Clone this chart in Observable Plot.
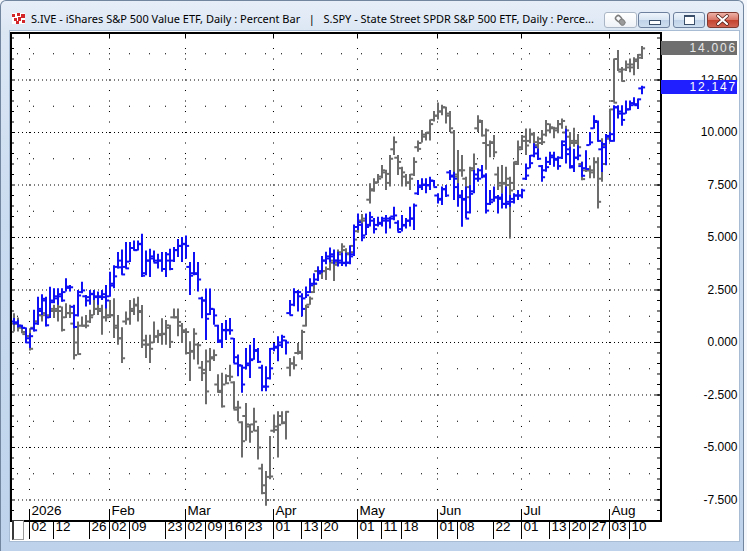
<!DOCTYPE html>
<html>
<head>
<meta charset="utf-8">
<script src="https://cdn.jsdelivr.net/npm/d3@7"></script>
<script src="https://cdn.jsdelivr.net/npm/@observablehq/plot@0.6"></script>
<style>
html,body{margin:0;padding:0;width:747px;height:551px;overflow:hidden;background:#f3f6fa;}
#win{position:absolute;left:0;top:0;width:744px;height:551px;box-sizing:border-box;
  background:linear-gradient(to bottom,#e7eef8 0px,#dce7f4 30px,#cadcf0 220px,#bed3eb 551px);
  border:1px solid #72869f;border-bottom:none;border-radius:6px 6px 0 0;}
#client{position:absolute;left:9px;top:30px;width:729px;height:510px;background:#fff;box-shadow:0 0 0 1px #a8bcd3;}
#icon{position:absolute;left:11px;top:12px;}
#title{position:absolute;left:30px;top:10px;font-family:"Noto Sans","Open Sans",sans-serif;font-size:11px;color:#000;white-space:nowrap;line-height:16px;}
.btn{position:absolute;top:11px;height:16px;box-sizing:border-box;border:1px solid #6d819e;border-radius:3px;}
#b0{left:603px;width:33px;background:linear-gradient(#ffffff,#eef2f7);border-color:#aab6c6;}
#b1{left:637px;width:32px;background:linear-gradient(#eef4fb 0%,#d8e5f3 48%,#bfd2e8 52%,#cfdff0 100%);}
#b2{left:672px;width:32px;background:linear-gradient(#eef4fb 0%,#d8e5f3 48%,#bfd2e8 52%,#cfdff0 100%);}
#b3{left:706px;width:32px;background:linear-gradient(#eeb1a6 0%,#d9786a 48%,#c4432f 52%,#d06452 100%);border-color:#80392f;}
#chart{position:absolute;left:0;top:0;}
#scroll{position:absolute;left:12px;top:520px;width:12px;height:20px;box-sizing:border-box;background:#fff;
  border:1px solid #9a9a9a;border-left:2px solid #3a3a3a;border-top:1px solid #3a3a3a;}
.lastbox{position:absolute;left:661px;width:76px;height:14px;box-sizing:border-box;padding-right:0px;
  font-family:"Liberation Sans",Arial,sans-serif;font-size:12px;line-height:14px;letter-spacing:1.8px;text-align:right;}
</style>
</head>
<body>
<div id="win">
  <svg id="icon" width="13" height="11" viewBox="0 0 13 11">
    <rect x="0" y="0" width="13" height="11" fill="#fff"/>
    <rect x="0" y="1" width="3" height="3" fill="#d3262a"/><rect x="5" y="0" width="3" height="3" fill="#d3262a"/>
    <rect x="9" y="1" width="4" height="4" fill="#d3262a"/><rect x="2" y="5" width="3" height="3" fill="#d3262a"/>
    <rect x="6" y="4" width="3" height="4" fill="#d3262a"/><rect x="10" y="7" width="3" height="3" fill="#d3262a"/>
    <rect x="4" y="8" width="3" height="3" fill="#d3262a"/>
  </svg>
  <div id="title">S.IVE - iShares S&amp;P 500 Value ETF, Daily : Percent Bar&nbsp;&nbsp;&nbsp;|&nbsp;&nbsp;&nbsp;S.SPY - State Street SPDR S&amp;P 500 ETF, Daily : Perce...</div>
  <div class="btn" id="b0"><svg width="31" height="14" style="position:absolute;left:0;top:0"><g transform="translate(15,7) rotate(45)"><rect x="-5" y="-2.5" width="6" height="5" rx="2" fill="none" stroke="#7d7d7d" stroke-width="1.5"/><rect x="0" y="-2.5" width="6" height="5" rx="2" fill="#9a9a9a" stroke="#7d7d7d" stroke-width="1"/></g></svg></div>
  <div class="btn" id="b1"><div style="position:absolute;left:10px;top:7px;width:10px;height:3px;background:#fff;border:1px solid #3c4f6a;"></div></div>
  <div class="btn" id="b2"><div style="position:absolute;left:10px;top:2px;width:9px;height:7px;background:#fff;border:1px solid #3c4f6a;border-top-width:2px;"></div></div>
  <div class="btn" id="b3"><svg width="30" height="14" style="position:absolute;left:0;top:0"><path d="M10,3 L19,11 M19,3 L10,11" stroke="#4a1a14" stroke-width="3.6" stroke-linecap="round"/><path d="M10,3 L19,11 M19,3 L10,11" stroke="#fff" stroke-width="2.2" stroke-linecap="round"/></svg></div>
  <div id="client"></div>
</div>
<div id="chart"></div>
<div id="scroll"></div>
<script>
// ---- S.IVE (blue) percent bars: open, high, low, close ----
const iveOpen = [1.00,0.95,0.80,0.69,0.20,0.66,0.90,1.60,2.00,1.20,
2.00,2.10,2.30,2.40,2.60,1.70,1.30,2.40,2.20,2.00,
2.30,2.20,2.20,2.30,2.20,2.80,3.60,3.90,3.60,3.85,
4.50,4.40,4.70,3.30,3.90,4.10,3.90,3.90,3.50,4.20,
3.90,4.40,4.60,4.70,3.60,3.30,3.30,2.10,2.00,1.35,
1.60,0.80,0.10,0.60,0.60,0.19,-0.70,-1.10,-1.20,-1.00,
-0.80,-0.40,-1.20,-2.10,-1.70,-0.30,-0.20,0.00,0.10,1.40,
1.80,2.40,2.20,2.10,2.40,2.80,3.00,3.40,3.90,4.00,
4.10,3.90,3.90,3.80,3.80,4.20,5.50,5.60,5.10,5.60,
5.80,5.60,5.70,5.80,5.80,6.00,5.70,5.40,5.60,5.80,
5.90,7.10,7.40,7.50,7.50,7.70,7.00,6.80,7.30,8.10,
7.90,7.40,7.00,6.80,6.20,7.20,8.00,8.20,7.90,6.60,
6.80,6.90,6.90,6.60,6.70,6.70,7.00,7.00,7.80,8.30,
8.90,9.00,8.40,8.20,8.60,8.90,8.70,8.80,9.40,9.20,
8.40,8.80,8.40,8.30,9.40,10.20,10.50,9.20,9.30,9.80,
9.60,11.20,10.90,10.90,11.10,11.30,11.30,12.10];
const iveHigh = [1.14,1.06,0.82,0.69,0.42,1.53,2.16,2.27,2.16,2.63,
2.56,2.56,2.56,3.03,2.71,1.77,2.48,2.87,2.24,2.48,
2.48,2.40,2.48,2.71,3.34,3.66,4.29,4.40,4.76,4.76,
4.83,4.83,5.15,4.36,4.44,4.36,4.20,4.28,4.28,4.44,
4.52,4.90,5.00,5.07,3.81,4.28,3.81,2.16,2.55,2.55,
1.60,0.82,0.90,1.05,1.14,0.19,-0.60,-1.08,-0.28,-0.13,
0.19,-0.28,-1.08,-1.16,-0.28,-0.05,0.27,0.35,0.11,2.00,
2.56,2.48,2.32,2.64,3.04,3.27,3.60,4.10,4.30,4.50,
4.40,4.30,4.25,4.25,4.60,5.60,6.12,5.65,6.12,6.20,
5.90,5.97,5.97,6.05,5.97,6.44,5.80,6.05,5.90,6.44,
6.60,7.71,7.80,7.80,7.87,7.71,7.08,7.40,7.48,8.19,
8.11,7.56,7.24,7.40,7.48,8.19,8.27,8.43,8.03,7.24,
7.40,7.00,7.08,7.40,7.00,7.08,7.24,7.30,8.50,8.90,
9.46,9.22,8.43,8.82,9.06,9.06,8.85,9.60,10.16,9.30,
9.20,9.37,8.58,9.13,10.00,10.80,10.55,9.53,9.90,10.00,
11.27,11.27,11.27,11.50,11.50,11.66,11.58,12.20];
const iveLow = [0.82,0.69,0.66,-0.05,-0.28,0.50,0.82,1.29,0.74,1.14,
1.85,1.77,1.92,2.40,2.40,0.66,1.21,2.32,1.69,1.77,
2.00,1.77,2.00,1.60,2.16,2.56,3.50,3.20,3.50,3.81,
4.36,4.36,3.10,3.18,3.10,3.80,3.50,3.34,3.10,3.42,
3.81,4.05,3.81,3.97,2.24,3.18,2.40,1.13,0.10,1.29,
0.82,-0.05,-0.28,0.10,0.35,-1.00,-1.63,-2.42,-1.31,-1.71,
-0.84,-1.00,-2.34,-2.34,-1.79,-0.44,-0.92,-0.28,-0.60,1.30,
1.70,1.45,1.22,2.09,2.33,2.72,2.90,3.30,3.70,3.80,
3.70,3.60,3.62,3.60,3.70,4.10,5.33,4.80,5.10,5.50,
5.17,5.50,5.50,5.17,5.40,5.80,5.26,5.26,5.40,5.50,
5.33,7.00,7.24,7.08,7.24,7.40,6.60,6.52,6.90,7.71,
6.76,6.44,5.49,5.90,6.12,7.08,7.63,7.80,6.12,6.52,
6.68,6.12,6.36,6.36,6.44,6.60,6.76,6.84,7.71,8.27,
8.80,8.67,7.63,8.11,8.43,8.35,8.20,8.72,8.50,8.26,
8.10,8.66,7.87,8.26,9.37,10.16,9.53,8.10,8.42,9.53,
9.53,10.64,10.30,10.87,11.03,11.27,11.10,11.80];
const iveClose = [0.95,0.80,0.70,0.00,0.30,0.58,1.50,2.08,0.82,1.92,
2.20,2.20,2.00,2.66,2.63,0.74,2.24,2.48,2.16,2.32,
2.16,2.16,2.16,2.00,2.71,3.15,3.58,3.24,3.53,4.50,
4.40,4.68,3.18,3.90,4.00,3.80,3.90,3.50,3.90,3.50,
4.40,4.60,4.68,4.60,3.18,3.26,3.00,2.00,1.13,1.60,
1.29,0.03,0.58,0.58,0.58,-1.00,-1.08,-2.00,-1.08,-0.84,
-0.36,-0.92,-2.10,-2.10,-1.23,-0.25,-0.13,0.27,0.00,1.30,
2.40,2.40,1.60,2.25,2.72,2.80,3.30,3.90,4.10,4.20,
3.90,3.80,3.78,3.80,4.10,5.50,5.73,5.00,5.50,5.97,
5.40,5.65,5.90,5.90,5.90,6.05,5.26,5.57,5.80,5.90,
6.52,7.48,7.52,7.48,7.71,7.40,6.84,7.30,7.00,7.95,
7.80,6.92,6.84,5.90,7.08,7.80,7.80,7.95,6.28,6.68,
6.92,6.84,6.60,6.60,6.84,7.00,7.00,7.24,7.95,8.54,
9.30,8.75,7.87,8.35,8.82,8.75,8.40,9.57,8.97,8.34,
8.80,8.90,7.94,8.26,9.53,10.55,9.60,9.45,9.84,9.92,
11.20,11.00,10.60,11.10,11.40,11.35,11.58,12.147];

// ---- S.SPY (gray) percent bars ----
const spyOpen = [0.90,0.90,0.70,0.40,0.30,0.70,1.00,1.30,1.40,1.30,
1.60,1.50,1.50,1.20,1.40,0.90,0.00,0.80,0.80,1.00,
1.30,1.60,1.50,1.20,1.30,1.30,0.70,0.20,1.00,1.10,
1.60,1.80,1.50,0.10,-0.10,0.00,0.30,0.40,0.40,0.70,
1.20,1.20,0.80,0.50,-0.50,-0.40,-0.10,-1.20,-1.30,-0.90,
-0.70,-2.00,-2.30,-2.00,-1.60,-1.90,-3.10,-3.80,-3.50,-4.00,
-3.90,-4.20,-6.00,-6.80,-6.40,-4.20,-4.00,-3.50,-3.80,-1.20,
-1.00,-0.50,-0.50,0.80,1.80,2.40,3.40,3.30,3.40,3.50,
3.80,3.80,4.30,4.40,4.20,4.60,5.30,5.80,5.80,6.80,
7.30,7.60,7.90,8.10,7.60,9.20,8.80,8.30,7.90,7.60,
8.00,9.30,9.50,9.80,10.00,10.60,10.80,11.00,11.20,10.80,
10.00,8.00,8.20,7.80,7.40,8.30,10.20,10.50,9.50,9.40,
9.50,8.00,7.60,7.60,7.50,7.60,8.60,9.20,9.80,9.60,
9.90,9.40,9.50,9.90,10.10,10.20,10.20,10.40,10.00,9.80,
9.50,9.60,8.50,8.20,8.20,8.20,8.60,7.80,9.40,9.80,
11.50,13.50,12.90,13.00,13.10,13.10,13.40,13.70];
const spyHigh = [1.37,1.17,0.74,0.60,0.66,1.37,1.37,1.61,1.77,2.16,
1.77,2.00,1.69,1.85,1.77,1.29,0.98,1.21,1.29,1.53,
2.00,2.00,1.77,2.08,2.00,2.08,1.29,0.70,1.45,2.00,
2.08,2.16,1.76,0.35,0.35,0.98,0.58,1.13,1.05,0.82,
1.60,1.60,0.90,0.66,0.03,0.66,-0.05,-0.91,-0.36,-0.28,
-0.36,-1.54,-1.46,-1.54,-1.08,-1.87,-2.80,-3.77,-2.90,-3.90,
-3.13,-4.00,-5.80,-6.14,-4.48,-3.45,-3.30,-3.30,-3.30,-0.76,
-0.68,-0.05,0.58,1.77,2.17,3.04,3.60,3.70,3.60,4.10,
4.00,4.40,4.70,4.46,4.60,5.00,6.00,6.10,6.00,7.56,
7.80,8.00,8.43,8.20,8.90,9.78,8.90,8.35,8.00,8.00,
8.80,9.60,10.10,10.00,10.60,11.00,11.40,11.30,11.20,11.00,
10.10,9.14,8.90,7.87,8.35,8.98,10.80,10.57,10.17,9.60,
9.86,8.35,8.43,8.35,7.87,8.59,9.60,9.86,10.17,10.17,
10.00,9.78,10.10,10.57,10.40,10.25,10.57,10.64,10.30,10.00,
10.20,9.90,8.58,8.34,8.40,8.80,8.80,9.70,9.84,11.10,
13.50,13.90,13.10,13.40,13.50,13.56,13.72,14.10];
const spyLow = [0.50,0.50,0.42,0.10,-0.41,0.66,0.82,0.98,0.82,1.14,
1.14,0.98,0.50,1.14,1.14,-0.83,-0.60,0.74,0.66,0.90,
1.29,1.29,0.35,0.98,1.14,0.19,-0.13,-1.00,0.82,0.82,
1.29,0.98,-0.28,-0.76,-1.00,-0.05,-0.05,-0.13,-0.13,-0.28,
1.13,0.27,-0.05,-0.60,-1.86,-0.83,-1.07,-1.86,-2.96,-1.38,
-0.91,-2.40,-3.12,-2.00,-1.87,-3.20,-3.77,-5.50,-4.70,-4.80,
-4.25,-5.60,-7.25,-7.80,-6.53,-4.32,-5.50,-3.92,-4.64,-1.63,
-1.31,-0.60,-0.84,0.74,1.77,2.33,3.10,3.00,2.95,3.40,
2.90,3.70,3.90,3.78,3.80,4.40,5.20,5.50,5.30,6.60,
7.16,7.56,7.80,7.24,7.40,8.90,7.95,7.40,7.40,7.24,
7.90,9.06,9.50,9.60,9.60,10.50,10.60,10.80,10.40,10.00,
7.50,7.24,7.87,6.76,7.08,7.95,10.00,9.78,8.20,8.80,
8.80,7.24,7.08,7.24,4.93,7.24,8.43,9.14,8.90,9.46,
9.38,9.06,9.38,9.78,9.94,9.70,9.94,10.16,9.30,9.00,
9.30,9.00,7.70,8.10,7.80,7.80,6.36,7.63,9.37,9.70,
11.42,12.90,12.40,12.90,12.85,12.70,13.00,13.48];
const spyClose = [0.90,0.80,0.50,0.30,-0.30,1.00,1.30,1.30,1.20,1.50,
1.60,1.70,0.60,1.40,1.40,-0.60,-0.55,0.80,0.80,1.20,
1.60,1.60,1.20,1.20,1.30,0.80,0.20,-0.75,1.13,1.50,
1.76,1.45,-0.10,-0.10,-0.30,0.27,0.35,0.42,0.82,0.03,
1.20,0.98,0.58,0.50,-0.44,0.42,-0.13,-1.46,-2.33,-0.76,
-0.60,-2.36,-3.04,-1.94,-1.63,-3.20,-3.10,-4.70,-3.90,-4.25,
-3.77,-5.00,-7.17,-7.50,-6.38,-4.16,-3.92,-3.84,-3.30,-1.00,
-1.08,-0.44,0.50,1.69,2.09,2.80,3.30,3.40,3.50,3.90,
3.70,4.20,4.57,4.25,4.30,4.90,5.80,5.90,5.60,7.24,
7.63,7.80,8.20,8.03,8.75,9.54,8.60,8.10,7.63,7.80,
8.60,9.22,9.90,9.97,10.40,10.80,11.00,11.20,10.90,10.20,
7.90,8.20,8.20,6.92,8.20,8.50,10.57,9.86,10.10,9.54,
9.06,7.48,7.56,7.80,7.24,8.50,9.30,9.60,9.38,9.94,
9.54,9.70,9.54,10.40,10.25,10.10,10.40,10.55,10.10,9.60,
9.50,9.30,7.78,8.20,8.10,8.58,6.70,8.50,9.70,11.10,
11.42,13.00,12.45,13.24,13.24,13.48,13.56,14.006];

// ---- time axis (trading-day index; first bar = 26 Dec 2025) ----
const monthIdx = [4,24,43,65,86,106,127,149];
const monthLab = ["2026","Feb","Mar","Apr","May","Jun","Jul","Aug"];
const dayIdx = [4,10,19,24,29,38,43,48,53,58,65,72,77,86,92,97,106,111,120,127,134,139,144,149,154];
const dayLab = ["02","12","26","02","09","23","02","09","16","23","01","13","20","01","11","18","01","08","22","01","13","20","27","03","10"];
const weekIdx = [1,5,10,15,19,24,29,34,38,43,48,53,58,63,67,72,77,82,87,92,97,102,106,111,116,120,125,129,134,139,144,149,154,159];

// ---- value axis ----
const majorLevels = [-7.5,-5,-2.5,0,2.5,5,7.5,10,12.5];
const minorRows = [-6.25,-3.75,-1.25,1.25,3.75,6.25,8.75,11.25,13.75];
const halfLevels = d3.range(-8.5, 14.75, 0.5);

const lastIve = 12.147, lastSpy = 14.006;
const blue = "#1010f4", gray = "#6c6c6c";

const mk = (o,h,l,c) => o.map((_, i) => ({i, o: o[i], h: h[i], l: l[i], c: c[i]}));
const ive = mk(iveOpen, iveHigh, iveLow, iveClose);
const spy = mk(spyOpen, spyHigh, spyLow, spyClose);

const bars = (data, color) => [
  Plot.ruleX(data, {x: "i", y1: "l", y2: "h", stroke: color, strokeWidth: 2, dx: 0.5}),
  Plot.ruleY(data, {y: "o", x1: d => d.i - 0.8, x2: "i", stroke: color, strokeWidth: 2, dx: 0.5}),
  Plot.ruleY(data, {y: "c", x1: "i", x2: d => d.i + 0.9, stroke: color, strokeWidth: 2, dx: 0.5})
];

const rowDots = weekIdx.flatMap(x => minorRows.map(y => ({x, y})));
const colDots = monthIdx.flatMap(x => halfLevels.filter(v => v >= -8).map(y => ({x, y})));

const W = 747, H = 551, mL = 10, mR = 86, mT = 32, mB = 30;
const fw = W - mL - mR, fh = H - mT - mB;

const chart = Plot.plot({
  width: W, height: H,
  marginLeft: mL, marginRight: mR, marginTop: mT, marginBottom: mB,
  x: {domain: [-0.75, 162], axis: null},
  y: {domain: [-8.524, 14.762], axis: null},
  style: {background: "transparent", fontFamily: "'Liberation Sans', Arial, sans-serif", fontSize: "13.5px", color: "#000", overflow: "visible"},
  marks: [
    Plot.ruleY(majorLevels, {y: d => d, stroke: "#000", strokeDasharray: "1,3"}),
    Plot.dot(rowDots, {x: "x", y: "y", symbol: "square", r: 0.6, fill: "#000"}),
    Plot.dot(colDots, {x: "x", y: "y", symbol: "square", r: 0.6, fill: "#000"}),
    Plot.tickY(halfLevels, {y: d => d, insetRight: fw - 4, stroke: "#000"}),
    Plot.tickY(halfLevels, {y: d => d, insetLeft: fw - 4, stroke: "#000"}),
    Plot.tickY(majorLevels, {y: d => d, insetLeft: fw - 6, stroke: "#000"}),
    Plot.tickX(monthIdx, {x: d => d, insetBottom: fh - 6, stroke: "#000"}),
    Plot.tickX(monthIdx, {x: d => d, insetTop: fh - 12, stroke: "#000"}),
    ...bars(spy, gray),
    ...bars(ive, blue),
    Plot.frame({stroke: "#000", strokeWidth: 2, inset: 0.5}),
    Plot.axisX(dayIdx, {anchor: "bottom", tickSize: 18, tickFormat: () => "", stroke: "#000"}),
    Plot.text(dayIdx, {x: d => d, text: (d, i) => dayLab[i], frameAnchor: "bottom", dy: 9, dx: 2, textAnchor: "start", fill: "#000"}),
    Plot.text(monthIdx, {x: d => d, text: (d, i) => monthLab[i], frameAnchor: "bottom", dy: -7, dx: 2, textAnchor: "start", fill: "#000"}),
    Plot.text(majorLevels, {y: d => d, text: d => d.toFixed(3), frameAnchor: "right", dx: 76, textAnchor: "end", fontSize: 12, fill: "#000", ariaLabel: "ylab"})
  ]
});
document.getElementById("chart").appendChild(chart);
d3.select(chart).selectAll('g[aria-label="ylab"] text').style("letter-spacing", "1.8px");

const ys = chart.scale("y");
function lastBox(v, bg, fg) {
  const d = document.createElement("div");
  d.className = "lastbox";
  d.style.top = (ys.apply(v) - 7) + "px";
  d.style.background = bg; d.style.color = fg;
  d.textContent = v.toFixed(3);
  document.body.appendChild(d);
}
lastBox(lastSpy, "#6e6e6e", "#e8e8e8");
lastBox(lastIve, "#1f1fff", "#ffffff");
</script>
</body>
</html>
